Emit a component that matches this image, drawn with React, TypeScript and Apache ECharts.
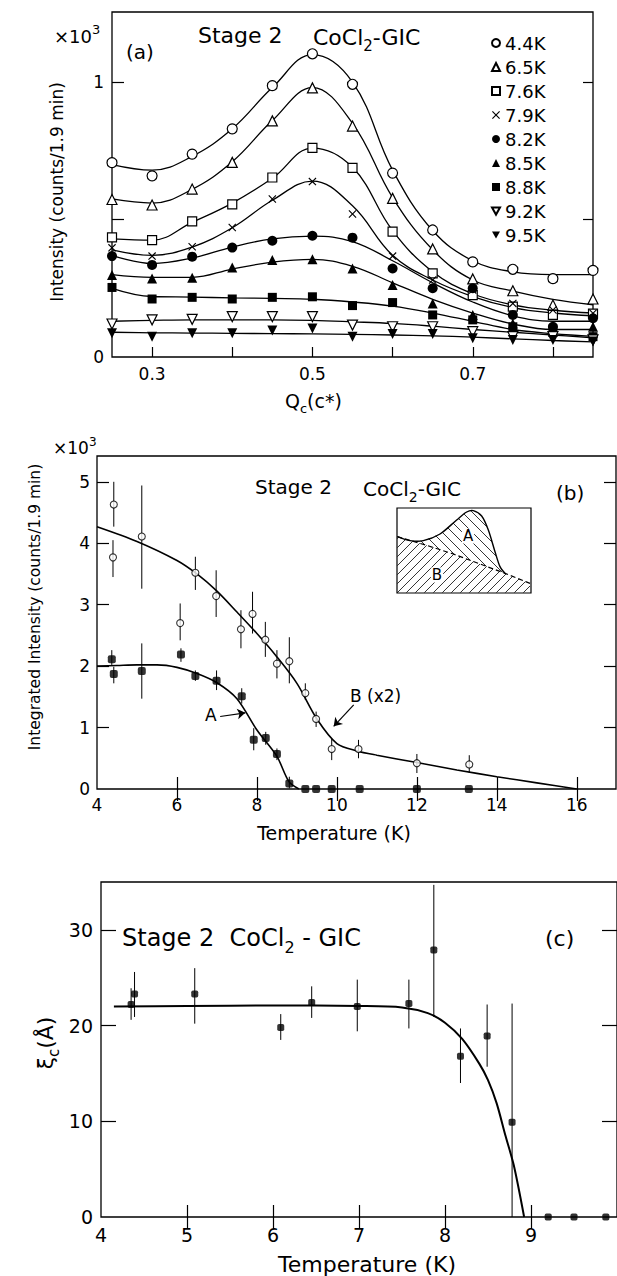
import React, { useEffect, useRef } from 'react';
import * as echarts from 'echarts';

const FONT = 'DejaVu Sans';

// ---------- Panel (a): Intensity vs Qc ----------
const qc = [0.25, 0.3, 0.35, 0.4, 0.45, 0.5, 0.55, 0.6, 0.65, 0.7, 0.75, 0.8, 0.85];
const tempsA = ['4.4K', '6.5K', '7.6K', '7.9K', '8.2K', '8.5K', '8.8K', '9.2K', '9.5K'];
const m44 = [0.707, 0.659, 0.738, 0.83, 0.987, 1.103, 0.992, 0.669, 0.462, 0.346, 0.319, 0.285, 0.315];
const m65 = [0.573, 0.553, 0.611, 0.708, 0.859, 0.979, 0.84, 0.577, 0.393, 0.284, 0.241, 0.189, 0.211];
const m76 = [0.435, 0.425, 0.493, 0.555, 0.653, 0.761, 0.688, 0.456, 0.304, 0.225, 0.183, 0.153, 0.158];
const m79 = [0.397, 0.367, 0.401, 0.471, 0.575, 0.638, 0.52, 0.367, 0.28, 0.244, 0.195, 0.171, 0.159];
const m82 = [0.367, 0.335, 0.365, 0.398, 0.423, 0.441, 0.434, 0.322, 0.25, 0.25, 0.153, 0.11, 0.141];
const m85 = [0.298, 0.286, 0.288, 0.326, 0.353, 0.356, 0.322, 0.262, 0.195, 0.153, 0.122, 0.092, 0.11];
const m88 = [0.253, 0.211, 0.217, 0.211, 0.217, 0.219, 0.187, 0.198, 0.153, 0.135, 0.11, 0.098, 0.074];
const m92 = [0.12, 0.135, 0.137, 0.147, 0.147, 0.147, 0.116, 0.11, 0.11, 0.092, 0.074, 0.074, 0.062];
const m95 = [0.086, 0.074, 0.086, 0.086, 0.096, 0.104, 0.074, 0.084, 0.084, 0.068, 0.062, 0.062, 0.056];
// fitted curves
const f44 = [0.70, 0.68, 0.73, 0.83, 0.98, 1.10, 1.0, 0.68, 0.46, 0.35, 0.31, 0.30, 0.30];
const f65 = [0.575, 0.56, 0.61, 0.71, 0.86, 0.98, 0.85, 0.58, 0.39, 0.28, 0.24, 0.21, 0.19];
const f76 = [0.43, 0.425, 0.49, 0.56, 0.65, 0.76, 0.69, 0.46, 0.31, 0.23, 0.19, 0.17, 0.16];
const f79 = [0.39, 0.37, 0.40, 0.47, 0.57, 0.64, 0.55, 0.37, 0.28, 0.22, 0.18, 0.16, 0.15];
const f82 = [0.37, 0.34, 0.36, 0.40, 0.43, 0.44, 0.42, 0.35, 0.27, 0.20, 0.15, 0.13, 0.13];
const f85 = [0.30, 0.29, 0.29, 0.32, 0.345, 0.355, 0.33, 0.27, 0.21, 0.16, 0.12, 0.10, 0.10];
const f88 = [0.25, 0.22, 0.218, 0.215, 0.213, 0.21, 0.20, 0.185, 0.16, 0.13, 0.10, 0.085, 0.075];
const f92 = [0.13, 0.133, 0.135, 0.135, 0.135, 0.133, 0.128, 0.122, 0.112, 0.10, 0.09, 0.08, 0.07];
const f95 = [0.09, 0.088, 0.087, 0.086, 0.085, 0.084, 0.082, 0.08, 0.077, 0.072, 0.066, 0.06, 0.055];
const markersA = [m44, m65, m76, m79, m82, m85, m88, m92, m95];
const fitsA = [f44, f65, f76, f79, f82, f85, f88, f92, f95];
const xTicksA = [0.3, 0.4, 0.5, 0.6, 0.7, 0.8];
const xLabelsA = [0.3, 0.5, 0.7];
const yTicksA = [0.5, 1];
const yLabelsA = [0, 1];

// ---------- Panel (b): Integrated intensity vs T ----------
const bT = [4.42, 4.4, 5.12, 6.08, 6.46, 6.98, 7.6, 7.89, 8.21, 8.5, 8.81, 9.21, 9.48, 9.87, 10.54, 12.0, 13.31];
const bVal = [4.63, 3.77, 4.11, 2.70, 3.52, 3.14, 2.60, 2.85, 2.43, 2.04, 2.08, 1.56, 1.14, 0.65, 0.65, 0.42, 0.40];
const bLo = [4.27, 3.45, 3.26, 2.42, 3.24, 2.80, 2.29, 2.53, 2.15, 1.80, 1.72, 1.45, 1.01, 0.47, 0.50, 0.26, 0.26];
const bHi = [5.0, 4.05, 4.94, 3.02, 3.78, 3.56, 2.91, 3.21, 2.72, 2.26, 2.47, 1.72, 1.26, 0.82, 0.80, 0.57, 0.55];
const aT = [4.37, 4.42, 5.12, 6.1, 6.46, 6.99, 7.62, 7.92, 8.22, 8.5, 8.81, 9.21, 9.48, 9.87, 10.57, 12.0, 13.3];
const aVal = [2.11, 1.87, 1.92, 2.19, 1.84, 1.76, 1.51, 0.80, 0.83, 0.57, 0.09, 0, 0, 0, 0, 0, 0];
const aLo = [2.02, 1.72, 1.47, 2.07, 1.76, 1.61, 1.39, 0.63, 0.72, 0.47, 0.01];
const aHi = [2.26, 1.99, 2.37, 2.29, 1.93, 1.93, 1.64, 0.99, 0.93, 0.66, 0.2];
const bFitT = [4, 5, 6, 6.5, 7, 7.5, 8, 8.5, 9, 9.5, 10, 10.5, 11, 12, 13, 14, 15, 16];
const bFit = [4.27, 4.03, 3.72, 3.50, 3.22, 2.88, 2.53, 2.15, 1.72, 1.14, 0.74, 0.62, 0.55, 0.43, 0.31, 0.2, 0.1, 0];
const aFitT = [4, 4.5, 5, 5.5, 6, 6.5, 7, 7.5, 8, 8.5, 8.8, 9.05];
const aFit = [2.0, 2.01, 2.02, 2.02, 1.98, 1.88, 1.73, 1.47, 0.96, 0.53, 0.12, 0];
const xTicksB = [6, 8, 10, 12, 14, 16];
const xLabelsB = [4, 6, 8, 10, 12, 14, 16];
const yTicksB = [1, 2, 3, 4, 5];
const yLabelsB = [0, 1, 2, 3, 4, 5];

// ---------- Panel (c): correlation length vs T ----------
const cT = [4.35, 4.39, 5.09, 6.09, 6.45, 6.98, 7.58, 7.87, 8.18, 8.49, 8.78, 9.2, 9.5, 9.87];
const cVal = [22.2, 23.3, 23.3, 19.8, 22.4, 22.0, 22.3, 27.9, 16.8, 18.9, 9.9, 0, 0, 0];
const cLo = [20.6, 20.9, 20.2, 18.5, 20.8, 19.4, 19.7, 20.9, 14.0, 15.7, 0];
const cHi = [23.9, 25.6, 26.0, 21.2, 24.1, 24.8, 24.8, 34.7, 19.7, 22.2, 22.3];
const cFitT = [4.15, 5, 6, 7, 7.5, 7.8, 8.0, 8.2, 8.4, 8.5, 8.6, 8.7, 8.8, 8.92];
const cFit = [22.0, 22.05, 22.1, 22.05, 21.9, 21.3, 20.3, 18.6, 16.0, 14.3, 11.9, 8.6, 5.4, 0];
const xTicksC = [5, 6, 7, 8, 9];
const xLabelsC = [4, 5, 6, 7, 8, 9];
const yTicksC = [10, 20, 30];
const yLabelsC = [0, 10, 20, 30];

const XPATH = 'path://M0,1L1,0L5,4L9,0L10,1L6,5L10,9L9,10L5,6L1,10L0,9L4,5Z';
const INV = 'path://M0,0L10,0L5,9Z';
const markerDefs = [
  { symbol: 'circle', fill: '#fff', size: 10 },
  { symbol: 'triangle', fill: '#fff', size: 10 },
  { symbol: 'rect', fill: '#fff', size: 9 },
  { symbol: XPATH, fill: '#000', size: 8 },
  { symbol: 'circle', fill: '#000', size: 10 },
  { symbol: 'triangle', fill: '#000', size: 10 },
  { symbol: 'rect', fill: '#000', size: 9 },
  { symbol: INV, fill: '#fff', size: 10 },
  { symbol: INV, fill: '#000', size: 10 },
];

const txt = (x: number, y: number, text: string, fontSize: number, align = 'left', rich?: any, rotation = 0, extra: any = {}) => ({
  type: 'text', x, y, rotation, silent: true, z: 20,
  style: {
    text, fontSize, fontFamily: FONT, fill: '#000',
    align, verticalAlign: 'middle', textAlign: align, textVerticalAlign: 'middle',
    rich, ...extra,
  },
});

const richSet = (base: number) => ({
  t: { fontSize: base, fontFamily: FONT, fill: '#000', color: '#000' },
  s: { fontSize: Math.round(base * 0.68), fontFamily: FONT, fill: '#000', color: '#000', padding: [Math.round(base * 0.75), 0, 0, 0] },
  u: { fontSize: Math.round(base * 0.7), fontFamily: FONT, fill: '#000', color: '#000', padding: [0, 0, Math.round(base * 0.7), 0] },
});

function hatch(poly: number[][], s: number, step: number) {
  const vals = poly.map((p) => p[1] - s * p[0]);
  const cmin = Math.min(...vals);
  const cmax = Math.max(...vals);
  const segs: any[] = [];
  for (let c = Math.ceil(cmin / step) * step; c <= cmax; c += step) {
    const xs: number[] = [];
    for (let i = 0; i < poly.length; i++) {
      const a = poly[i];
      const b = poly[(i + 1) % poly.length];
      const fa = a[1] - s * a[0] - c;
      const fb = b[1] - s * b[0] - c;
      if ((fa < 0) !== (fb < 0)) {
        const t = fa / (fa - fb);
        xs.push(a[0] + t * (b[0] - a[0]));
      }
    }
    xs.sort((p, q) => p - q);
    for (let k = 0; k + 1 < xs.length; k += 2) {
      segs.push({
        type: 'line', silent: true, z: 15,
        shape: { x1: xs[k], y1: s * xs[k] + c, x2: xs[k + 1], y2: s * xs[k + 1] + c },
        style: { stroke: '#000', lineWidth: 0.8 },
      });
    }
  }
  return segs;
}

const axisCommon = (fontSize: number, margin: number, tickLen: number) => ({
  type: 'value',
  axisLine: { show: false },
  splitLine: { show: false },
  axisTick: { show: true, inside: true, length: tickLen, lineStyle: { color: '#000', width: 1.2 } },
  axisLabel: { show: true, color: '#000', fontSize, fontFamily: FONT, margin },
});

const errSeries = (xi: number, yi: number, T: number[], lo: number[], hi: number[]) => ({
  type: 'custom', xAxisIndex: xi, yAxisIndex: yi, silent: true, z: 2,
  data: lo.map((l, i) => [T[i], l, hi[i]]),
  encode: { x: 0, y: [1, 2] },
  renderItem: (params: any, api: any) => {
    const a = api.coord([api.value(0), api.value(1)]);
    const b = api.coord([api.value(0), api.value(2)]);
    return { type: 'line', shape: { x1: a[0], y1: a[1], x2: b[0], y2: b[1] }, style: { stroke: '#000', lineWidth: 1 } };
  },
});

export default function App() {
  const ref = useRef<HTMLDivElement>(null);
  useEffect(() => {
    if (!ref.current) return;
    const chart = echarts.init(ref.current, null, { renderer: 'svg' });

    const series: any[] = [];
    // panel (a)
    fitsA.forEach((f) => {
      series.push({
        type: 'line', xAxisIndex: 0, yAxisIndex: 0, silent: true, z: 2,
        data: qc.map((q, i) => [q, f[i]]), smooth: 0.4, showSymbol: false, symbol: 'none',
        lineStyle: { color: '#000', width: 1.3 },
      });
    });
    markersA.forEach((m, k) => {
      const d = markerDefs[k];
      series.push({
        type: 'scatter', name: tempsA[k], xAxisIndex: 0, yAxisIndex: 0, z: 3,
        data: qc.map((q, i) => [q, m[i]]), symbol: d.symbol, symbolSize: d.size,
        itemStyle: { color: d.fill, borderColor: '#000', borderWidth: d.fill === '#fff' ? 1.2 : 0, opacity: 1 },
      });
    });
    // panel (b)
    series.push(errSeries(1, 2, bT, bLo, bHi));
    series.push(errSeries(1, 2, aT, aLo, aHi));
    series.push({
      type: 'line', xAxisIndex: 1, yAxisIndex: 2, silent: true, z: 2, smooth: 0.3, showSymbol: false, symbol: 'none',
      data: bFitT.map((t, i) => [t, bFit[i]]), lineStyle: { color: '#000', width: 1.6 },
      markLine: {
        silent: true, symbol: ['none', 'arrow'], symbolSize: 8, label: { show: false },
        lineStyle: { color: '#000', width: 1.2, type: 'solid' },
        data: [[{ coord: [10.42, 1.37] }, { coord: [9.92, 1.02] }]],
      },
    });
    series.push({
      type: 'line', xAxisIndex: 1, yAxisIndex: 2, silent: true, z: 2, smooth: 0.3, showSymbol: false, symbol: 'none',
      data: aFitT.map((t, i) => [t, aFit[i]]), lineStyle: { color: '#000', width: 1.6 },
      markLine: {
        silent: true, symbol: ['none', 'arrow'], symbolSize: 8, label: { show: false },
        lineStyle: { color: '#000', width: 1.2, type: 'solid' },
        data: [[{ coord: [7.08, 1.18] }, { coord: [7.71, 1.24] }]],
      },
    });
    series.push({
      type: 'scatter', xAxisIndex: 1, yAxisIndex: 2, z: 3, symbol: 'circle', symbolSize: 7,
      data: bT.map((t, i) => [t, bVal[i]]),
      itemStyle: { color: '#fff', borderColor: '#000', borderWidth: 1.1 },
    });
    series.push({
      type: 'scatter', xAxisIndex: 1, yAxisIndex: 2, z: 3, symbol: 'roundRect', symbolSize: 8,
      data: aT.map((t, i) => [t, aVal[i]]),
      itemStyle: { color: '#000' },
    });
    // panel (c)
    series.push(errSeries(3, 4, cT, cLo, cHi));
    series.push({
      type: 'line', xAxisIndex: 3, yAxisIndex: 4, silent: true, z: 2, smooth: 0.3, showSymbol: false, symbol: 'none',
      data: cFitT.map((t, i) => [t, cFit[i]]), lineStyle: { color: '#000', width: 2 },
    });
    series.push({
      type: 'scatter', xAxisIndex: 3, yAxisIndex: 4, z: 3, symbol: 'roundRect', symbolSize: 7,
      data: cT.map((t, i) => [t, cVal[i]]),
      itemStyle: { color: '#000' },
    });

    // inset of panel (b)
    const P = (cx: number, cy: number) => [300 + cx / 3, 420 + cy / 3];
    const solid = [[292, 350], [330, 362], [370, 362], [420, 342], [470, 300], [500, 276], [520, 272], [545, 288], [565, 330], [585, 395], [600, 440], [615, 460]].map((p) => P(p[0], p[1]));
    const dashed = [[292, 350], [380, 376], [460, 402], [540, 432], [615, 460], [690, 490]].map((p) => P(p[0], p[1]));
    const polyA = [...solid, ...dashed.slice(0, 5).reverse().slice(1, 4)];
    const polyB = [...dashed, P(690, 518), P(292, 518)];
    const inset: any[] = [
      { type: 'rect', silent: true, z: 14, shape: { x: 397, y: 508, width: 134, height: 85 }, style: { fill: '#fff', stroke: '#000', lineWidth: 1.2 } },
      ...hatch(polyA, 1, 10),
      ...hatch(polyB, -1, 9),
      { type: 'polyline', silent: true, z: 16, shape: { points: solid, smooth: 0.3 }, style: { stroke: '#000', lineWidth: 1.4, fill: 'none' } },
      { type: 'polyline', silent: true, z: 16, shape: { points: dashed }, style: { stroke: '#000', lineWidth: 1.2, fill: 'none', lineDash: [5, 3] } },
      txt(468, 536, 'A', 15, 'center', undefined, 0, { backgroundColor: '#fff', padding: [0, 1] }),
      txt(437, 575, 'B', 15, 'center', undefined, 0, { backgroundColor: '#fff', padding: [0, 1] }),
    ];

    const r22 = richSet(22);
    const r20 = richSet(20);
    const r19 = richSet(19);
    const r24 = richSet(24);
    const r18 = richSet(18);
    const r17 = richSet(17);

    const graphics: any[] = [
      // panel (a)
      txt(54, 36, '{t|×10}{u|3}', 18, 'left', r18),
      txt(126, 52, '(a)', 20, 'left'),
      txt(198, 35, 'Stage 2', 22, 'left'),
      txt(313, 37, '{t|CoCl}{s|2}{t|-GIC}', 22, 'left', r22),
      txt(285, 401, '{t|Q}{s|c}{t|(c*)}', 19, 'left', r19),
      txt(57, 192, 'Intensity (counts/1.9 min)', 17, 'center', undefined, Math.PI / 2),
      // panel (b)
      txt(53, 448, '{t|×10}{u|3}', 17, 'left', r17),
      txt(255, 487, 'Stage 2', 20, 'left'),
      txt(363, 489, '{t|CoCl}{s|2}{t|-GIC}', 20, 'left', r20),
      txt(556, 493, '(b)', 20, 'left'),
      txt(205, 715, 'A', 17, 'left'),
      txt(350, 696, 'B (x2)', 17, 'left'),
      txt(334, 833, 'Temperature (K)', 19, 'center'),
      txt(35, 607, 'Integrated Intensity (counts/1.9 min)', 15.5, 'center', undefined, Math.PI / 2),
      ...inset,
      // panel (c)
      txt(122, 938, '{t|Stage 2  CoCl}{s|2}{t| - GIC}', 24, 'left', r24),
      txt(545, 938, '(c)', 22, 'left'),
      txt(367, 1264, 'Temperature (K)', 22, 'center'),
      txt(45, 1043, '{t|ξ}{s|c}{t|(Å)}', 22, 'center', r22, Math.PI / 2),
    ];

    const option: any = {
      animation: false,
      backgroundColor: '#fff',
      grid: [
        { left: 112, top: 12, width: 481, height: 345, show: true, borderColor: '#000', borderWidth: 1.3, backgroundColor: 'transparent' },
        { left: 97, top: 456, width: 519, height: 333, show: true, borderColor: '#000', borderWidth: 1.3, backgroundColor: 'transparent' },
        { left: 101, top: 882, width: 522, height: 335, show: true, borderColor: '#000', borderWidth: 1.3, backgroundColor: 'transparent' },
      ],
      xAxis: [
        { ...axisCommon(17, 8, 10), gridIndex: 0, min: 0.25, max: 0.85, position: 'bottom',
          axisTick: { ...axisCommon(17, 8, 10).axisTick, customValues: xTicksA },
          axisLabel: { ...axisCommon(17, 8, 10).axisLabel, customValues: xLabelsA, formatter: (v: number) => v.toFixed(1) } },
        { ...axisCommon(17, 7, 12), gridIndex: 1, min: 4, max: 16.98, position: 'bottom',
          axisTick: { ...axisCommon(17, 7, 12).axisTick, customValues: xTicksB },
          axisLabel: { ...axisCommon(17, 7, 12).axisLabel, customValues: xLabelsB } },
        { ...axisCommon(17, 7, 12), gridIndex: 1, min: 4, max: 16.98, position: 'top',
          axisTick: { ...axisCommon(17, 7, 12).axisTick, customValues: xTicksB },
          axisLabel: { show: false } },
        { ...axisCommon(19, 8, 12), gridIndex: 2, min: 4, max: 10, position: 'bottom',
          axisTick: { ...axisCommon(19, 8, 12).axisTick, customValues: xTicksC },
          axisLabel: { ...axisCommon(19, 8, 12).axisLabel, customValues: xLabelsC } },
        { ...axisCommon(19, 8, 12), gridIndex: 2, min: 4, max: 10, position: 'top',
          axisTick: { ...axisCommon(19, 8, 12).axisTick, customValues: xTicksC },
          axisLabel: { show: false } },
      ],
      yAxis: [
        { ...axisCommon(17, 8, 12), gridIndex: 0, min: 0, max: 1.255, position: 'left',
          axisTick: { ...axisCommon(17, 8, 12).axisTick, customValues: yTicksA },
          axisLabel: { ...axisCommon(17, 8, 12).axisLabel, customValues: yLabelsA } },
        { ...axisCommon(17, 8, 10), gridIndex: 0, min: 0, max: 1.255, position: 'right',
          axisTick: { ...axisCommon(17, 8, 10).axisTick, customValues: yTicksA },
          axisLabel: { show: false } },
        { ...axisCommon(17, 7, 12), gridIndex: 1, min: 0, max: 5.42, position: 'left',
          axisTick: { ...axisCommon(17, 7, 12).axisTick, customValues: yTicksB },
          axisLabel: { ...axisCommon(17, 7, 12).axisLabel, customValues: yLabelsB } },
        { ...axisCommon(17, 7, 12), gridIndex: 1, min: 0, max: 5.42, position: 'right',
          axisTick: { ...axisCommon(17, 7, 12).axisTick, customValues: yTicksB },
          axisLabel: { show: false } },
        { ...axisCommon(19, 8, 15), gridIndex: 2, min: 0, max: 35, position: 'left',
          axisTick: { ...axisCommon(19, 8, 15).axisTick, customValues: yTicksC },
          axisLabel: { ...axisCommon(19, 8, 15).axisLabel, customValues: yLabelsC } },
        { ...axisCommon(19, 8, 15), gridIndex: 2, min: 0, max: 35, position: 'right',
          axisTick: { ...axisCommon(19, 8, 15).axisTick, customValues: yTicksC },
          axisLabel: { show: false } },
      ],
      legend: {
        data: tempsA, orient: 'vertical', left: 491, top: 34, padding: 0,
        itemWidth: 8, itemHeight: 8, itemGap: 6, selectedMode: false,
        textStyle: { fontSize: 18, fontFamily: FONT, color: '#000', lineHeight: 18 },
      },
      series,
      graphic: { elements: graphics },
    };
    chart.setOption(option);
    return () => chart.dispose();
  }, []);

  return (
    <div
      ref={ref}
      style={{ position: 'absolute', left: 0, top: 0, width: 617, height: 1276, background: '#fff' }}
    />
  );
}
